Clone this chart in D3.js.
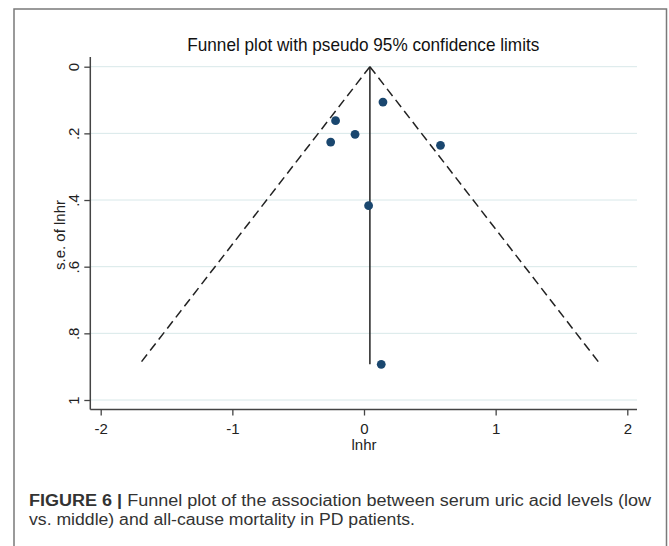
<!DOCTYPE html>
<html>
<head>
<meta charset="utf-8">
<script src="https://cdn.jsdelivr.net/npm/d3@7"></script>
<style>
  html, body { margin: 0; padding: 0; background: #fff; }
  svg { display: block; font-family: "Liberation Sans", Arial, sans-serif; }
</style>
</head>
<body>
<div id="chart"></div>
<script>
// study estimates
var lnhr = [0.144, -0.216, -0.068, -0.253, 0.581, 0.035, 0.131];
var seLnhr = [0.106, 0.162, 0.203, 0.226, 0.236, 0.417, 0.893];

var xTicks = [-2, -1, 0, 1, 2];
var yTicks = [0, 0.2, 0.4, 0.6, 0.8, 1];
var yTickLabels = ["0", ".2", ".4", ".6", ".8", "1"];

var width = 669, height = 546;

var svg = d3.select("#chart").append("svg")
    .attr("width", width)
    .attr("height", height);

// outer frame of the figure panel
svg.append("path")
    .attr("d", "M14,546V9H666.5V546")
    .attr("fill", "none")
    .attr("stroke", "#7a7a7a")
    .attr("stroke-width", 1.5);

var x = d3.scaleLinear().domain([-2, 2]).range([100.7, 627.3]);
var y = d3.scaleLinear().domain([0, 1]).range([66.7, 400]);

var plotLeft = 90.3, plotRight = 637, plotTop = 57, plotBottom = 409.5;

// gridlines
svg.append("g").selectAll("line")
    .data(yTicks)
    .enter().append("line")
    .attr("x1", plotLeft)
    .attr("x2", plotRight)
    .attr("y1", function(d) { return y(d); })
    .attr("y2", function(d) { return y(d); })
    .attr("stroke", "#d8e8e9")
    .attr("stroke-width", 1);

// pooled (fixed effect) estimate and pseudo 95% limits
var w = seLnhr.map(function(s) { return 1 / (s * s); });
var pooled = d3.sum(lnhr, function(d, i) { return d * w[i]; }) / d3.sum(w);
var seMax = d3.max(seLnhr);

svg.append("line")
    .attr("x1", x(pooled)).attr("x2", x(pooled))
    .attr("y1", y(0)).attr("y2", y(seMax))
    .attr("stroke", "#222")
    .attr("stroke-width", 1.5);

var funnel = d3.line()
    .x(function(d) { return x(d[0]); })
    .y(function(d) { return y(d[1]); });

[-1, 1].forEach(function(side) {
  svg.append("path")
      .attr("d", funnel([[pooled, 0], [pooled + side * 1.96 * seMax, seMax]]))
      .attr("fill", "none")
      .attr("stroke", "#222")
      .attr("stroke-width", 1.5)
      .attr("stroke-dasharray", "9,5");
});

// points
svg.append("g").selectAll("circle")
    .data(lnhr)
    .enter().append("circle")
    .attr("cx", function(d) { return x(d); })
    .attr("cy", function(d, i) { return y(seLnhr[i]); })
    .attr("r", 4.4)
    .attr("fill", "#1a476f");

// x axis
var xAxis = svg.append("g")
    .attr("transform", "translate(0," + plotBottom + ")")
    .call(d3.axisBottom(x).tickValues(xTicks).tickSize(6).tickPadding(3)
      .tickFormat(function(d) { return d3.format("d")(d).replace("−", "-"); }));
xAxis.select(".domain").remove();
xAxis.selectAll(".tick line").attr("stroke", "#444").attr("stroke-width", 1.3);
xAxis.selectAll(".tick text")
    .attr("font-size", 15)
    .attr("font-family", "Liberation Sans, Arial, sans-serif")
    .attr("fill", "#222")
    .attr("dy", 0)
    .attr("y", 24.5);
svg.append("line")
    .attr("x1", plotLeft).attr("x2", plotRight)
    .attr("y1", plotBottom).attr("y2", plotBottom)
    .attr("stroke", "#444").attr("stroke-width", 1.5);

// y axis
var yAxis = svg.append("g")
    .attr("transform", "translate(" + plotLeft + ",0)")
    .call(d3.axisLeft(y).tickValues(yTicks).tickSize(6)
      .tickFormat(function(d, i) { return yTickLabels[i]; }));
yAxis.select(".domain").remove();
yAxis.selectAll(".tick line").attr("stroke", "#444").attr("stroke-width", 1.3);
yAxis.selectAll(".tick text")
    .attr("x", null)
    .attr("dy", null)
    .attr("font-size", 15)
    .attr("font-family", "Liberation Sans, Arial, sans-serif")
    .attr("fill", "#222")
    .attr("text-anchor", "middle")
    .attr("transform", "translate(-11.5,0) rotate(-90)");
svg.append("line")
    .attr("x1", plotLeft).attr("x2", plotLeft)
    .attr("y1", plotTop).attr("y2", plotBottom)
    .attr("stroke", "#444").attr("stroke-width", 1.5);

// axis titles
svg.append("text")
    .attr("x", x(0))
    .attr("y", 450)
    .attr("text-anchor", "middle")
    .attr("font-size", 15)
    .attr("fill", "#222")
    .text("lnhr");

svg.append("text")
    .attr("transform", "translate(65,235) rotate(-90)")
    .attr("text-anchor", "middle")
    .attr("font-size", 15)
    .attr("fill", "#222")
    .text("s.e. of lnhr");

// chart title
svg.append("text")
    .attr("x", 187.3)
    .attr("y", 51)
    .attr("font-size", 18.5)
    .attr("fill", "#111")
    .attr("textLength", 352)
    .attr("lengthAdjust", "spacingAndGlyphs")
    .text("Funnel plot with pseudo 95% confidence limits");

// figure caption
var cap1 = svg.append("text")
    .attr("x", 29)
    .attr("y", 506)
    .attr("font-size", 16)
    .attr("fill", "#333")
    .attr("textLength", 622)
    .attr("lengthAdjust", "spacingAndGlyphs");
cap1.append("tspan").attr("font-weight", "bold").text("FIGURE 6 | ");
cap1.append("tspan").text("Funnel plot of the association between serum uric acid levels (low");

svg.append("text")
    .attr("x", 29)
    .attr("y", 525)
    .attr("font-size", 16)
    .attr("fill", "#333")
    .attr("textLength", 386)
    .attr("lengthAdjust", "spacingAndGlyphs")
    .text("vs. middle) and all-cause mortality in PD patients.");
</script>
</body>
</html>
